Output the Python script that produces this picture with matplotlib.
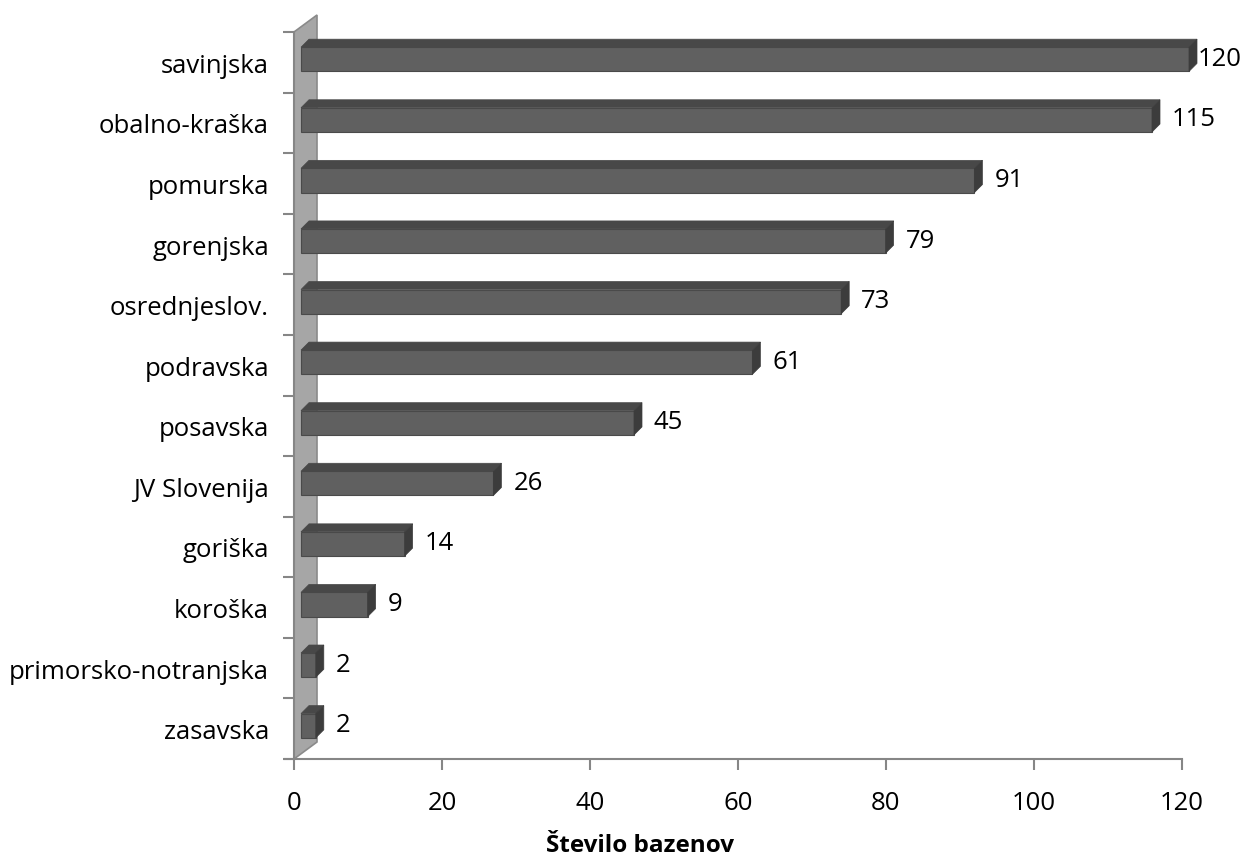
import matplotlib
matplotlib.use("Agg")
import matplotlib.pyplot as plt
from matplotlib.patches import Polygon
from matplotlib.transforms import IdentityTransform

categories = ["zasavska", "primorsko-notranjska", "koroška", "goriška", "JV Slovenija",
              "posavska", "podravska", "osrednjeslov.", "gorenjska", "pomurska",
              "obalno-kraška", "savinjska"]
values = [2, 2, 9, 14, 26, 45, 61, 73, 79, 91, 115, 120]
xticks = [0, 20, 40, 60, 80, 100, 120]
xlabel = "Število bazenov"

FONT = ["Open Sans", "DejaVu Sans"]
plt.rcParams["font.family"] = FONT
FS = 18.5

W, H, DPI = 1244, 862, 100
fig = plt.figure(figsize=(W / DPI, H / DPI), dpi=DPI)
ax = fig.add_axes([294 / W, (H - 760) / H, (1182 - 294) / W, (760 - 33) / H])
ax.set_xlim(0, 120)
ax.set_ylim(-0.5, len(categories) - 0.5)
for s in ["top", "right", "left"]:
    ax.spines[s].set_visible(False)
ax.spines["bottom"].set_color("#868686")
ax.spines["bottom"].set_linewidth(1.5)
ax.spines["bottom"].set_bounds(-1.2, 120)

ax.set_xticks(xticks)
ax.set_xticklabels([str(t) for t in xticks], fontsize=FS)
ax.tick_params(axis="x", length=8, width=1.5, color="#868686", pad=14)
ax.set_yticks(range(len(categories)))
ax.set_yticklabels(categories, fontsize=FS)
ax.tick_params(axis="y", which="major", length=0, pad=18)
ax.set_yticks([k - 0.5 for k in range(len(categories) + 1)], minor=True)
ax.tick_params(axis="y", which="minor", length=8, width=1.5, color="#868686")

fig.text(640 / W, (H - 846) / H, xlabel, fontsize=17.5, fontweight="bold",
         ha="center", va="center")

fig.canvas.draw()
td = ax.transData
ident = IdentityTransform()
renderer = fig.canvas.get_renderer()

# back wall
x0, yb = td.transform((0, -0.5))
_, yt = td.transform((0, len(categories) - 0.5))
wall_dx, wall_dy = 23, 17
wall = Polygon([(x0, yb), (x0, yt), (x0 + wall_dx, yt + wall_dy), (x0 + wall_dx, yb + wall_dy)],
               closed=True, facecolor="#a6a6a6", edgecolor="#8a8a8a", linewidth=1.2,
               transform=ident, clip_on=False, zorder=1)
ax.add_patch(wall)
ax.plot([0, 0], [-0.5, len(categories) - 0.5], color="#868686", lw=1.5, clip_on=False, zorder=1.5)

bar_dx, bar_dy = 7, 3   # front face shift
dep = 8                  # depth offset for top/side faces
half = 0.2
for i, v in enumerate(values):
    ax_, ay_ = td.transform((0, i - half))
    bx_, by_ = td.transform((v, i + half))
    fx0, fy0 = ax_ + bar_dx, ay_ + bar_dy
    fx1, fy1 = bx_ + bar_dx, by_ + bar_dy
    front = Polygon([(fx0, fy0), (fx1, fy0), (fx1, fy1), (fx0, fy1)], closed=True,
                    facecolor="#606060", edgecolor="#4a4a4a", lw=0.8,
                    transform=ident, clip_on=False, zorder=3)
    top = Polygon([(fx0, fy1), (fx1, fy1), (fx1 + dep, fy1 + dep), (fx0 + dep, fy1 + dep)],
                  closed=True, facecolor="#484848", edgecolor="#484848", lw=0.5,
                  transform=ident, clip_on=False, zorder=3)
    side = Polygon([(fx1, fy0), (fx1, fy1), (fx1 + dep, fy1 + dep), (fx1 + dep, fy0 + dep)],
                   closed=True, facecolor="#3c3c3c", edgecolor="#3c3c3c", lw=0.5,
                   transform=ident, clip_on=False, zorder=3)
    for p in (front, top, side):
        ax.add_patch(p)
    lx, ly = fx1 + 20, (fy0 + fy1) / 2 + 1
    t = ax.text(lx, ly, str(v), transform=ident, ha="left", va="center", fontsize=FS, zorder=4)
    ext = t.get_window_extent(renderer)
    if ext.x1 > W - 2:
        t.set_x(max(fx1 + dep + 1, lx - (ext.x1 - (W - 2))))

fig.savefig("out.png", dpi=DPI)
